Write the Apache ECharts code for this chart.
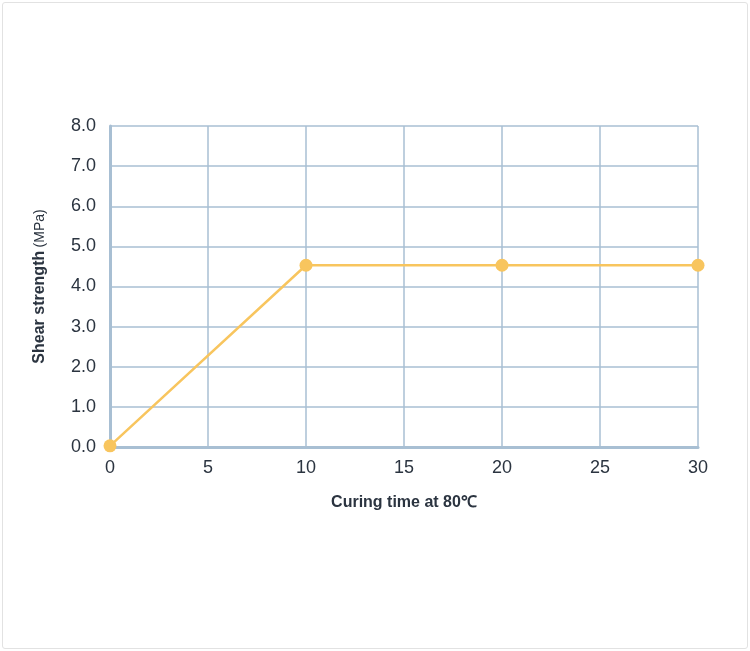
<!DOCTYPE html><html><head><meta charset="utf-8">
<script src="https://cdn.jsdelivr.net/npm/echarts@6/dist/echarts.min.js"></script>
<style>html,body{margin:0;padding:0;background:#fff}
#frame{position:absolute;left:2px;top:2px;width:744px;height:645px;border:1px solid #e2e2e2;border-radius:3px}
#c{width:750px;height:651px}</style></head><body><div id="frame"></div><div id="c"></div>
<script>
const xValues=[0,10,20,30];
const strength=[0.03,4.53,4.53,4.53];
const xName='Curing time at 80℃';
const yNameBold='Shear strength';
const yNameUnit='(MPa)';
const F='Liberation Sans';
const chart=echarts.init(document.getElementById('c'));
chart.setOption({
 animation:false,
 grid:{left:110,right:52,top:126,bottom:204},
 xAxis:{type:'value',min:0,max:30,interval:5,name:xName,nameLocation:'middle',nameGap:48,
  nameTextStyle:{color:'#2b3440',fontSize:16,fontWeight:'bold',fontFamily:F},
  axisLine:{lineStyle:{color:'#a8bfd3',width:3}},axisTick:{show:false},
  axisLabel:{color:'#2b3440',fontSize:18,margin:12,fontFamily:F,formatter:v=>String(v)},
  splitLine:{show:true,lineStyle:{color:'#a8bfd3',width:1.5}}},
 yAxis:{type:'value',min:0,max:8,interval:1,name:'{b|'+yNameBold+'} {n|'+yNameUnit+'}',nameLocation:'middle',nameGap:62,nameRotate:90,
  nameTextStyle:{rich:{b:{color:'#2b3440',fontSize:16,fontWeight:'bold',fontFamily:F},n:{color:'#2b3440',fontSize:14,fontFamily:F}}},
  axisLine:{show:true,lineStyle:{color:'#a8bfd3',width:3}},axisTick:{show:false},
  axisLabel:{color:'#2b3440',fontSize:18,margin:14,fontFamily:F,formatter:v=>v.toFixed(1)},
  splitLine:{show:true,lineStyle:{color:'#a8bfd3',width:1.5}}},
 series:[{type:'line',data:xValues.map((x,i)=>[x,strength[i]]),symbol:'circle',symbolSize:13,
  lineStyle:{color:'#f8c55e',width:2.5},itemStyle:{color:'#f8c55e'},clip:false}]
});
</script></body></html>
